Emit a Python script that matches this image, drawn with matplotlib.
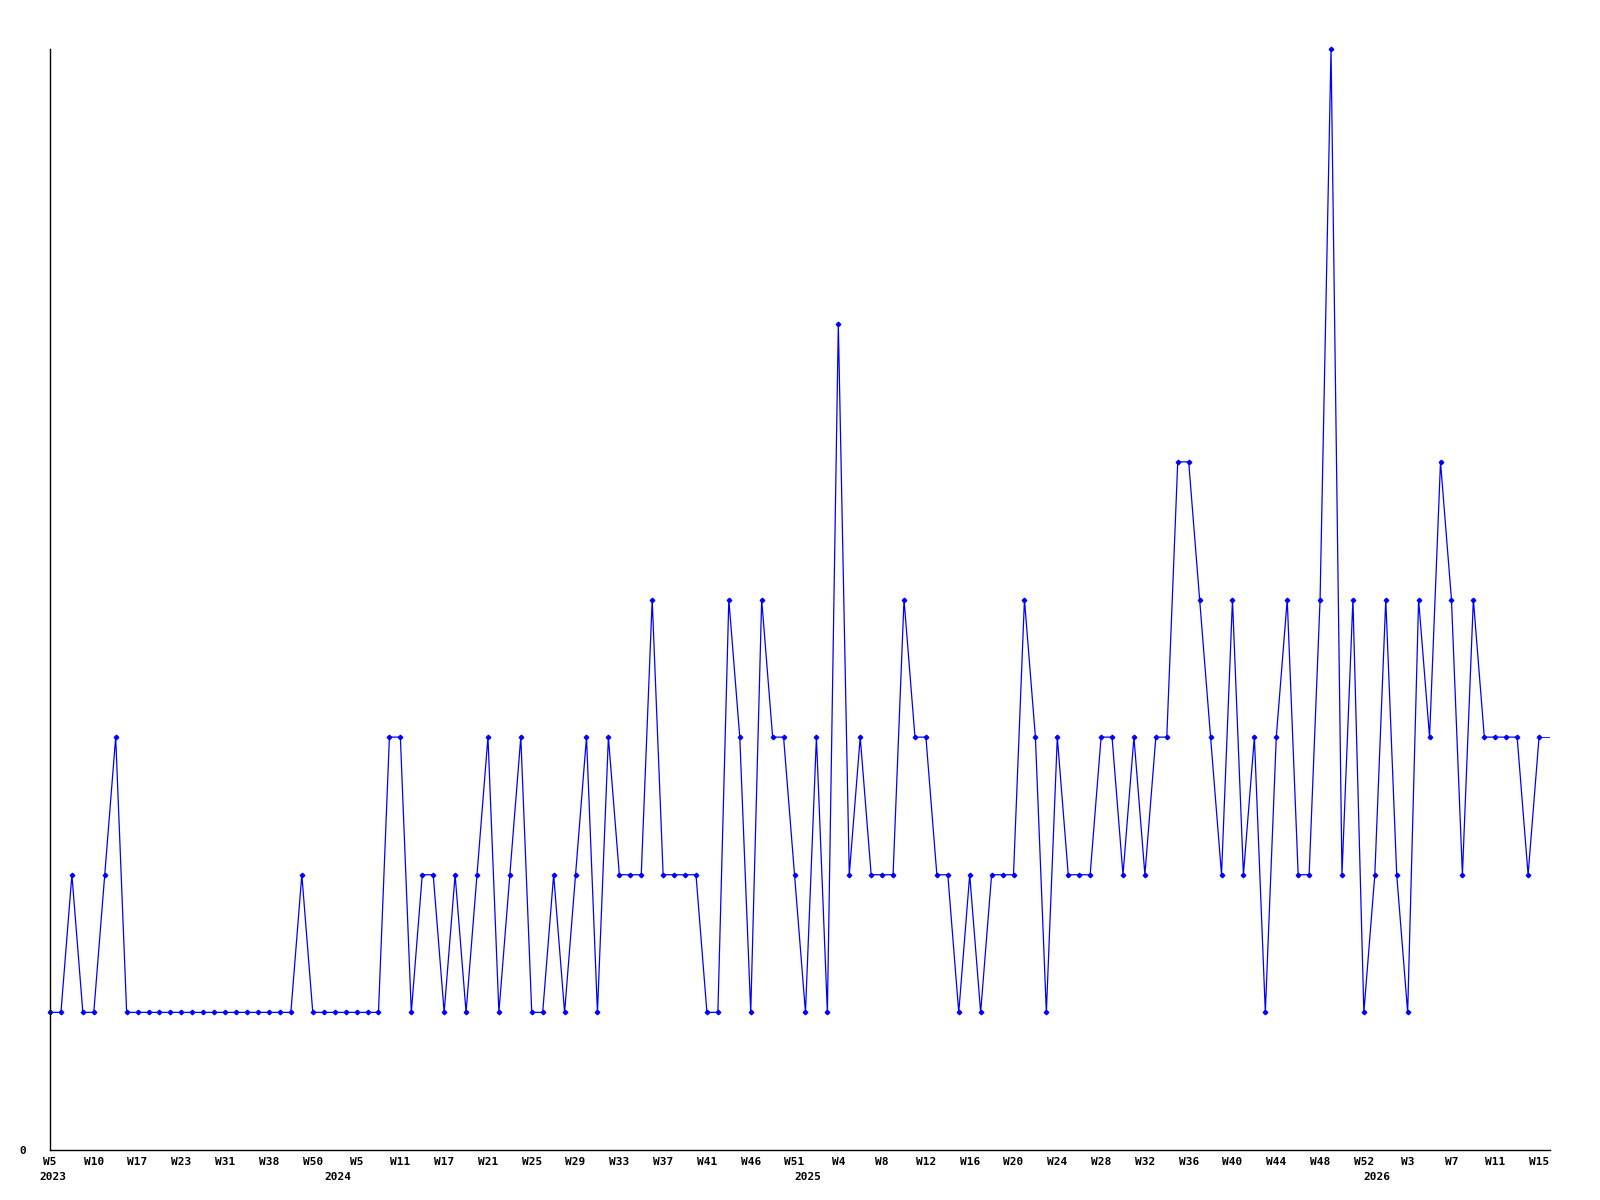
import matplotlib
matplotlib.use("Agg")
import matplotlib.pyplot as plt
import matplotlib.transforms as mtransforms
import numpy as np

# weekly counts, one point per week that has data
werte = [1, 1, 2, 1, 1, 2, 3, 1, 1, 1,
         1, 1, 1, 1, 1, 1, 1, 1, 1, 1,
         1, 1, 1, 2, 1, 1, 1, 1, 1, 1,
         1, 3, 3, 1, 2, 2, 1, 2, 1, 2,
         3, 1, 2, 3, 1, 1, 2, 1, 2, 3,
         1, 3, 2, 2, 2, 4, 2, 2, 2, 2,
         1, 1, 4, 3, 1, 4, 3, 3, 2, 1,
         3, 1, 6, 2, 3, 2, 2, 2, 4, 3,
         3, 2, 2, 1, 2, 1, 2, 2, 2, 4,
         3, 1, 3, 2, 2, 2, 3, 3, 2, 3,
         2, 3, 3, 5, 5, 4, 3, 2, 4, 2,
         3, 1, 3, 4, 2, 2, 4, 8, 2, 4,
         1, 2, 4, 2, 1, 4, 3, 5, 4, 2,
         4, 3, 3, 3, 3, 2, 3, 3]

wochen = ["W5", "W10", "W17", "W23", "W31", "W38", "W50", "W5", "W11",
          "W17", "W21", "W25", "W29", "W33", "W37", "W41", "W46", "W51",
          "W4", "W8", "W12", "W16", "W20", "W24", "W28", "W32", "W36",
          "W40", "W44", "W48", "W52", "W3", "W7", "W11", "W15"]

jahre = ["2023", "2024", "2025", "2026"]
jahr_pos = [0.3, 26.3, 69.2, 121.2]

blau = "#0000ff"
schrift = "DejaVu Sans Mono"

fig = plt.figure(figsize=(16, 12), dpi=100)
ax = fig.add_axes([50 / 1600, 50 / 1200, 1500 / 1600, 1101 / 1200])

x = np.arange(len(werte))
n = len(werte) - 1
# last week is still running: drawn thin, no marker
ax.plot(x[:n], werte[:n], color=blau, lw=0.9, marker="D", ms=2.3, mec=blau, mfc=blau,
        clip_on=False)
ax.plot(x[n - 1:], werte[n - 1:], color=blau, lw=0.6)

ax.set_xlim(0, n)
ax.set_ylim(0, max(werte))

for s in ["top", "right"]:
    ax.spines[s].set_visible(False)
for s in ["left", "bottom"]:
    ax.spines[s].set_linewidth(1.0)
    ax.spines[s].set_color("black")

ax.set_xticks(np.arange(0, len(werte), 4)[:len(wochen)])
ax.set_xticklabels(wochen, fontfamily=schrift, fontweight="bold", fontsize=8)
ax.tick_params(axis="x", length=0, pad=5)
ax.set_yticks([0])
ax.set_yticklabels(["0"], fontfamily=schrift, fontweight="bold", fontsize=8)
ax.tick_params(axis="y", length=0, pad=17)

trans = mtransforms.blended_transform_factory(ax.transData, ax.transAxes)
for j, p in zip(jahre, jahr_pos):
    ax.text(p, -0.0245, j, transform=trans, ha="center", va="center",
            fontfamily=schrift, fontweight="bold", fontsize=8)

fig.savefig("out.png", dpi=100)
